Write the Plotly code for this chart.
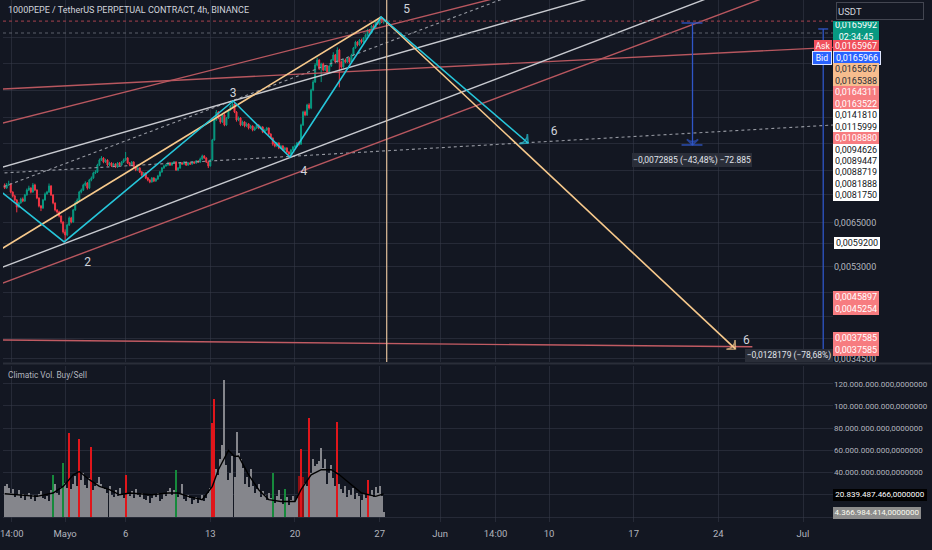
import math
import pandas as pd
import plotly.graph_objects as go

# ---------------- data ----------------
candle_start = "2024-04-26 00:00"
first_open = 0.007746
closes = [
    0.007639, 0.007746, 0.007782, 0.007498, 0.007360, 0.007224, 0.006993, 0.007124, 0.007258, 0.007190,
    0.007394, 0.007568, 0.007639, 0.007498, 0.007746, 0.007568, 0.007292, 0.007025, 0.006960, 0.007224,
    0.007429, 0.007498, 0.007710, 0.007394, 0.007124, 0.006896, 0.006832, 0.006706, 0.006521, 0.006225,
    0.006139, 0.006431, 0.006644, 0.006521, 0.006896, 0.007124, 0.007224, 0.007498, 0.007568, 0.007746,
    0.007818, 0.007639, 0.007928, 0.008003, 0.008191, 0.008229, 0.008501, 0.008701, 0.008783, 0.008620,
    0.008701, 0.008501, 0.008581, 0.008462, 0.008541, 0.008422, 0.008581, 0.008501, 0.008620, 0.008701,
    0.008783, 0.008581, 0.008501, 0.008620, 0.008422, 0.008306, 0.008383, 0.008229, 0.008115, 0.008191,
    0.008003, 0.007928, 0.007855, 0.008003, 0.007891, 0.007965, 0.008077, 0.008229, 0.008383, 0.008462,
    0.008501, 0.008581, 0.008501, 0.008581, 0.008620, 0.008306, 0.008383, 0.008581, 0.008541, 0.008620,
    0.008501, 0.008581, 0.008541, 0.008620, 0.008581, 0.008661, 0.008620, 0.008742, 0.008865, 0.008783,
    0.008620, 0.008462, 0.008701, 0.009549, 0.010480, 0.010877, 0.010578, 0.010383, 0.010727, 0.010239,
    0.010578, 0.010979, 0.011186, 0.011290, 0.010877, 0.010480, 0.010578, 0.010239, 0.010383, 0.010192,
    0.010287, 0.010097, 0.010192, 0.010004, 0.010097, 0.010239, 0.010097, 0.010144, 0.009911, 0.010004,
    0.010097, 0.009820, 0.009639, 0.009373, 0.009287, 0.009417, 0.009201, 0.009287, 0.009115, 0.009201,
    0.009031, 0.008947, 0.009115, 0.009244, 0.009287, 0.009417, 0.009373, 0.010239, 0.010877, 0.010727,
    0.011238, 0.011082, 0.012050, 0.012506, 0.013536, 0.013854, 0.013348, 0.013599, 0.013224, 0.013473,
    0.013102, 0.013473, 0.013854, 0.014180, 0.013726, 0.014514, 0.013726, 0.013411, 0.013854, 0.013726,
    0.013983, 0.013726, 0.014180, 0.014649, 0.015064, 0.014855, 0.015205, 0.015064, 0.015347, 0.015563,
    0.015929, 0.015708, 0.016228, 0.016078, 0.016533, 0.016380, 0.016764, 0.016533, 0.0165992,
]
highs = [
    0.00780, 0.00782, 0.00790, 0.00781, 0.00752, 0.00740, 0.00725, 0.00716, 0.00730, 0.00731,
    0.00743, 0.00762, 0.00772, 0.00766, 0.00782, 0.00779, 0.00759, 0.00731, 0.00706, 0.00726,
    0.00748, 0.00754, 0.00780, 0.00774, 0.00742, 0.00714, 0.00692, 0.00687, 0.00672, 0.00654,
    0.00630, 0.00647, 0.00669, 0.00668, 0.00693, 0.00718, 0.00728, 0.00754, 0.00762, 0.00779,
    0.00788, 0.00785, 0.00797, 0.00806, 0.00824, 0.00830, 0.00855, 0.00876, 0.00886, 0.00882,
    0.00875, 0.00873, 0.00863, 0.00861, 0.00859, 0.00857, 0.00862, 0.00862, 0.00866, 0.00876,
    0.00903, 0.00882, 0.00862, 0.00866, 0.00865, 0.00845, 0.00843, 0.00841, 0.00826, 0.00823,
    0.00822, 0.00804, 0.00796, 0.00804, 0.00803, 0.00800, 0.00812, 0.00827, 0.00842, 0.00851,
    0.00855, 0.00863, 0.00862, 0.00862, 0.00866, 0.00865, 0.00842, 0.00862, 0.00862, 0.00866,
    0.00864, 0.00862, 0.00861, 0.00866, 0.00865, 0.00870, 0.00869, 0.00880, 0.00892, 0.00890,
    0.00881, 0.00864, 0.00874, 0.00960, 0.01054, 0.01098, 0.01092, 0.01065, 0.01080, 0.01078,
    0.01063, 0.01103, 0.01124, 0.01150, 0.01132, 0.01092, 0.01065, 0.01062, 0.01045, 0.01042,
    0.01036, 0.01033, 0.01025, 0.01022, 0.01016, 0.01030, 0.01027, 0.01020, 0.01018, 0.01006,
    0.01015, 0.01012, 0.00985, 0.00966, 0.00941, 0.00946, 0.00944, 0.00934, 0.00932, 0.00925,
    0.00923, 0.00906, 0.00916, 0.00929, 0.00935, 0.00946, 0.00950, 0.01030, 0.01094, 0.01095,
    0.01130, 0.01133, 0.01212, 0.01262, 0.01365, 0.01400, 0.01390, 0.01368, 0.01368, 0.01352,
    0.01352, 0.01352, 0.01392, 0.01436, 0.01425, 0.01470, 0.01460, 0.01380, 0.01392, 0.01395,
    0.01405, 0.01402, 0.01426, 0.01472, 0.01515, 0.01512, 0.01528, 0.01530, 0.01542, 0.01565,
    0.01602, 0.01600, 0.01632, 0.01635, 0.01662, 0.01665, 0.01692, 0.01685, 0.01668,
]
lows = [
    0.00760, 0.00761, 0.00771, 0.00745, 0.00731, 0.00718, 0.00682, 0.00697, 0.00710, 0.00715,
    0.00716, 0.00737, 0.00753, 0.00745, 0.00747, 0.00753, 0.00725, 0.00698, 0.00686, 0.00693,
    0.00720, 0.00740, 0.00746, 0.00736, 0.00708, 0.00685, 0.00678, 0.00666, 0.00647, 0.00618,
    0.00594, 0.00610, 0.00640, 0.00648, 0.00650, 0.00687, 0.00709, 0.00719, 0.00745, 0.00753,
    0.00770, 0.00758, 0.00760, 0.00788, 0.00797, 0.00815, 0.00819, 0.00846, 0.00866, 0.00857,
    0.00858, 0.00846, 0.00846, 0.00842, 0.00842, 0.00838, 0.00839, 0.00846, 0.00847, 0.00858,
    0.00866, 0.00854, 0.00845, 0.00846, 0.00838, 0.00826, 0.00827, 0.00819, 0.00807, 0.00808,
    0.00796, 0.00788, 0.00781, 0.00783, 0.00785, 0.00786, 0.00793, 0.00805, 0.00820, 0.00835,
    0.00843, 0.00847, 0.00846, 0.00847, 0.00855, 0.00827, 0.00826, 0.00835, 0.00851, 0.00851,
    0.00846, 0.00847, 0.00850, 0.00851, 0.00854, 0.00855, 0.00859, 0.00859, 0.00871, 0.00875,
    0.00858, 0.00838, 0.00844, 0.00868, 0.00952, 0.01044, 0.01052, 0.01030, 0.01034, 0.01018,
    0.01020, 0.01054, 0.01094, 0.01112, 0.01082, 0.01040, 0.01042, 0.01018, 0.01019, 0.01013,
    0.01014, 0.01003, 0.01005, 0.00994, 0.00996, 0.01006, 0.01004, 0.01004, 0.00986, 0.00986,
    0.00996, 0.00977, 0.00959, 0.00930, 0.00923, 0.00924, 0.00915, 0.00916, 0.00907, 0.00908,
    0.00899, 0.00882, 0.00890, 0.00908, 0.00920, 0.00924, 0.00930, 0.00933, 0.01019, 0.01066,
    0.01068, 0.01100, 0.01102, 0.01198, 0.01245, 0.01345, 0.01322, 0.01250, 0.01315, 0.01316,
    0.01302, 0.01305, 0.01342, 0.01380, 0.01364, 0.01368, 0.01220, 0.01330, 0.01336, 0.01365,
    0.01366, 0.01362, 0.01368, 0.01414, 0.01460, 0.01476, 0.01480, 0.01496, 0.01500, 0.01530,
    0.01550, 0.01560, 0.01565, 0.01600, 0.01602, 0.01630, 0.01632, 0.01645, 0.01640,
]
# volume per candle, in billions
volumes_b = [
    28, 30, 26, 22, 25, 18, 20, 24, 17, 21,
    15, 19, 22, 16, 20, 14, 18, 21, 23, 17,
    16, 19, 14, 24, 38, 30, 22, 20, 27, 49,
    31, 26, 76, 25, 30, 37, 28, 70, 33, 40,
    29, 26, 35, 63, 24, 28, 31, 36, 30, 27,
    25, 22, 28, 20, 18, 24, 19, 26, 21, 17,
    38, 22, 19, 23, 17, 25, 20, 18, 22, 16,
    15, 19, 13, 17, 20, 18, 22, 14, 16, 21,
    19, 23, 26, 20, 24, 42, 18, 22, 30, 16,
    14, 20, 17, 12, 15, 18, 13, 16, 20, 14,
    17, 22, 26, 85, 106, 43, 38, 52, 65, 123,
    47, 33, 40, 55, 36, 77, 58, 52, 44, 30,
    36, 27, 43, 28, 22, 25, 30, 18, 23, 20,
    15, 22, 17, 40, 13, 19, 24, 16, 12, 25,
    18, 11, 15, 19, 14, 17, 37, 61, 36, 31,
    28, 89, 40, 52, 46, 48, 50, 62, 44, 52,
    30, 40, 47, 35, 28, 86, 30, 25, 22, 28,
    18, 24, 20, 26, 16, 22, 19, 15, 21, 17,
    33, 20, 24, 18, 27, 22, 28, 19, 4.37,
]
vol_red_idx = [32, 37, 43, 60, 103, 104, 147, 151, 165, 180]
vol_darkred_idx = [146, 148]
vol_green_idx = [24, 29, 85, 133, 139]
# moving-average line of the volume pane (read at sample candles)
ma_idx = [0, 9, 16, 24, 29, 34, 37, 42, 47, 52, 57, 62, 73, 81, 86, 91, 98, 103, 106, 111,
          114, 116, 121, 126, 131, 137, 144, 147, 152, 157, 162, 166, 170, 177, 184, 188]
ma_vals = [21, 20, 18.6, 21.6, 27.6, 38, 41, 33.6, 27.6, 24.6, 20, 21.6, 20, 21.6, 21.6, 18.6, 15.6, 27.6, 42.6, 60,
           54.6, 55, 38, 24.6, 15.6, 14, 14, 24.6, 38, 42.6, 42.6, 38, 32, 21.6, 18.6, 20.84]

# drawings: (times, prices)
line_white_1 = (["2024-04-25 00:00", "2024-06-14 07:30"], [0.008306, 0.018744])
line_white_2 = (["2024-04-25 00:00", "2024-06-23 19:50"], [0.005192, 0.018744])
line_red_1 = (["2024-04-25 00:00", "2024-06-06 15:00"], [0.010210, 0.018744])
line_red_2 = (["2024-04-25 00:00", "2024-07-04 01:20"], [0.012078, 0.014718])
line_red_3 = (["2024-04-25 00:00", "2024-06-28 09:50"], [0.004822, 0.018744])
line_dot_1 = (["2024-04-25 00:00", "2024-06-07 01:00"], [0.007536, 0.018744])
line_dot_2 = (["2024-04-25 00:00", "2024-07-04 01:20"], [0.008168, 0.010258])
line_base_red = (["2024-04-25 00:00", "2024-06-26 19:30"], [0.003767, 0.003650])
yellow_up = (["2024-04-25 00:00", "2024-05-27 03:00"], [0.005609, 0.016921])
yellow_down = (["2024-05-27 03:00", "2024-06-25 09:50"], [0.016921, 0.003613])
wave_times = ["2024-04-25 00:00", "2024-04-30 22:00", "2024-05-14 21:20", "2024-05-19 14:00",
              "2024-05-27 03:00", "2024-06-08 06:30"]
wave_prices = [0.007750, 0.005942, 0.011449, 0.008824, 0.016921, 0.009417]
wave_labels = ["2", "3", "4", "5", "6", "6"]
wave_label_times = ["2024-05-02 20:40", "2024-05-14 21:20", "2024-05-20 17:50", "2024-05-29 05:20",
                    "2024-06-10 10:00", "2024-06-26 07:30"]
wave_label_prices = [0.005389, 0.011828, 0.008229, 0.017480, 0.009911, 0.003749]
vline_time = "2024-05-27 14:00"
level_gray = 0.015708
measure_1 = (["2024-06-21 20:45", "2024-06-21 20:45"], [0.016456, 0.009330])
measure_1_caps = (["2024-06-20 23:00", "2024-06-22 16:30"], [0.016456, 0.009330])
measure_2 = (["2024-07-02 16:05", "2024-07-02 16:05"], [0.016004, 0.003613])
measure_2_cap = (["2024-07-02 06:10", "2024-07-03 01:55"], [0.016004])

x_tick_vals = ["2024-04-26 14:00", "2024-05-01", "2024-05-06", "2024-05-13", "2024-05-20", "2024-05-27",
               "2024-06-01", "2024-06-05 14:00", "2024-06-10", "2024-06-17", "2024-06-24", "2024-07-01"]
x_tick_text = ["14:00", "Mayo", "6", "13", "20", "27", "Jun", "14:00", "10", "17", "24", "Jul"]
x_range = ["2024-04-25 20:40", "2024-07-03 11:30"]

price_tick_vals = [0.00345, 0.0038, 0.0042, 0.0047, 0.0053, 0.0059, 0.0065,
                   0.0074, 0.0083, 0.0094, 0.0106, 0.0120, 0.0136, 0.0154]
price_tick_text = ["0,0034500", "", "", "", "0,0053000", "", "0,0065000",
                   "", "", "", "", "", "", ""]
price_range = [0.0034, 0.018313]

vol_tick_vals = [0, 20, 40, 60, 80, 100, 120]
vol_tick_text = ["", "", "40.000.000.000,0000000", "60.000.000.000,0000000",
                 "80.000.000.000,0000000", "100.000.000.000,0000000", "120.000.000.000,0000000"]
vol_range = [-4.5, 136]

right_top_label = "0,0165992<br>02:34:45"
right_stack_labels = ["0,0165967", "0,0165966", "0,0165667", "0,0165388", "0,0164311", "0,0163522",
                      "0,0141810", "0,0115999", "0,0108880", "0,0094626", "0,0089447", "0,0088719",
                      "0,0081888", "0,0081750"]
right_stack_kinds = ["ask", "bid", "peach", "peach", "salmon", "salmon", "white", "white", "salmon",
                     "white", "white", "white", "white", "white"]
right_low_labels = ["0,0059200", "0,0045897", "0,0045254", "0,0037585", "0,0037585"]
right_low_kinds = ["whiteb", "salmon", "salmon", "salmon", "salmon"]
vol_last_ma_label = "20.839.487.466,0000000"
vol_last_label = "4.366.984.414,0000000"
title_text = "1000PEPE / TetherUS PERPETUAL CONTRACT, 4h, BINANCE"
indicator_text = "Climatic Vol. Buy/Sell"
measure_1_text = "−0,0072885 (−43,48%) −72.885"
measure_2_text = "−0,0128179 (−78,68%)"

# ---------------- styling ----------------
BG = "#131722"
GRID = "rgba(54,58,72,0.55)"
FONT = "Roboto"
AXIS_TXT = "#b2b5be"
W, H = 932, 550
PW, PH = 833, 522   # plot area size in px (margins r=99, b=28)

times = pd.date_range(candle_start, periods=len(closes), freq="4h")
opens = [first_open] + closes[:-1]

vol_colors = []
for i in range(len(volumes_b)):
    if i in vol_red_idx:
        vol_colors.append("#e0161b")
    elif i in vol_darkred_idx:
        vol_colors.append("#8e1014")
    elif i in vol_green_idx:
        vol_colors.append("#168a3c")
    else:
        vol_colors.append("#85868c")

fig = go.Figure()

fig.add_trace(go.Candlestick(
    x=times, open=opens, high=highs, low=lows, close=closes,
    increasing=dict(line=dict(color="#089981", width=1), fillcolor="#089981"),
    decreasing=dict(line=dict(color="#f23645", width=1), fillcolor="#f23645"),
    whiskerwidth=0, hoverinfo="skip", xaxis="x", yaxis="y"))


def add_line(seg, color, width=1.4, dash=None):
    fig.add_trace(go.Scatter(x=seg[0], y=seg[1], mode="lines",
                             line=dict(color=color, width=width, dash=dash),
                             hoverinfo="skip", xaxis="x", yaxis="y"))


def add_arrow(xs, ys, color, width=1.6, size=9):
    fig.add_trace(go.Scatter(
        x=xs, y=ys, mode="lines+markers",
        line=dict(color=color, width=width, backoff=0),
        marker=dict(symbol="arrow-wide-open", size=[0] * (len(xs) - 1) + [size], angleref="previous",
                    color=color, line=dict(color=color, width=1.6)),
        hoverinfo="skip", xaxis="x", yaxis="y"))


add_line(line_dot_2, "#9598a1", 1.1, "dot")
add_line(line_dot_1, "#9598a1", 1.1, "dot")
add_line(line_red_2, "#b8575f", 1.4)
add_line(line_red_1, "#b8575f", 1.4)
add_line(line_red_3, "#b8575f", 1.4)
add_line(line_white_1, "#c8cad0", 1.4)
add_line(line_white_2, "#c8cad0", 1.4)
add_line(line_base_red, "#c15b63", 1.4)
# horizontal price lines
add_line((x_range, [closes[-1], closes[-1]]), "#8a3a45", 1.1, "dot")
add_line((x_range, [level_gray, level_gray]), "#5d606b", 1.1, "dot")
# vertical line
add_line(([vline_time, vline_time], [0.002, 0.03]), "#e2c19c", 1.2)
# yellow projection
add_line(yellow_up, "#f7c98c", 1.6)
add_arrow(yellow_down[0], yellow_down[1], "#f7c98c")
# cyan wave
add_arrow(wave_times, wave_prices, "#26c6da")
# measure tools
add_arrow(measure_1[0], measure_1[1], "#2f56c8", 1.3, 8)
add_line((measure_1_caps[0], [measure_1_caps[1][0]] * 2), "#2f56c8", 1.3)
add_line((measure_1_caps[0], [measure_1_caps[1][1]] * 2), "#2f56c8", 1.3)
add_line(measure_2, "#2f56c8", 1.3)
add_line((measure_2_cap[0], measure_2_cap[1] * 2), "#2f56c8", 1.3)

fig.add_trace(go.Scatter(x=wave_label_times, y=wave_label_prices, mode="text", text=wave_labels,
                         textfont=dict(color="#d1d4dc", size=12, family=FONT),
                         hoverinfo="skip", xaxis="x", yaxis="y"))

# volume pane
fig.add_trace(go.Bar(x=times, y=volumes_b, marker=dict(color=vol_colors, line=dict(width=0)),
                     width=4 * 3600 * 1000 * 0.5, hoverinfo="skip", xaxis="x", yaxis="y2"))
fig.add_trace(go.Scatter(x=[times[i] for i in ma_idx], y=ma_vals, mode="lines",
                         line=dict(color="#000000", width=1.4), hoverinfo="skip", xaxis="x", yaxis="y2"))

x_font = dict(family=FONT, size=9.5, color=AXIS_TXT)
p_font = dict(family=FONT, size=9, color=AXIS_TXT)
v_font = dict(family=FONT, size=8, color=AXIS_TXT)
fig.update_layout(
    width=W, height=H, margin=dict(l=0, r=W - PW, t=0, b=H - PH),
    paper_bgcolor=BG, plot_bgcolor=BG, showlegend=False, bargap=0,
    xaxis=dict(type="date", range=x_range, anchor="y2", tickmode="array", tickvals=x_tick_vals,
               ticktext=x_tick_text, showgrid=True, gridcolor=GRID, gridwidth=1, tickfont=x_font,
               ticks="outside", ticklen=3, tickcolor="rgba(0,0,0,0)", zeroline=False, showline=False,
               ticklabeloverflow="allow", rangeslider=dict(visible=False), fixedrange=True),
    yaxis=dict(type="log", domain=[(PH - 362) / PH, 1], anchor="x",
               range=[math.log10(price_range[0]), math.log10(price_range[1])], side="right",
               tickmode="array", tickvals=price_tick_vals, ticktext=price_tick_text, tickfont=p_font,
               showgrid=True, gridcolor=GRID, zeroline=False, showline=False, ticks="", fixedrange=True),
    yaxis2=dict(domain=[0, (PH - 366) / PH], anchor="x", range=vol_range, side="right",
                tickmode="array", tickvals=vol_tick_vals, ticktext=vol_tick_text, tickfont=v_font,
                showgrid=True, gridcolor=GRID, zeroline=False, showline=False, ticks="", fixedrange=True),
)

# pane separator
fig.add_shape(type="line", xref="paper", yref="paper", x0=0, x1=W / PW, y0=(PH - 363.5) / PH,
              y1=(PH - 363.5) / PH, line=dict(color="#2a2e39", width=2))


def box(py, text, bg, fg, px=833, w=44, h=9.6, anchor="left", border=None, size=9, align="center"):
    fig.add_annotation(xref="paper", yref="paper", x=px / PW, y=(PH - py) / PH, xanchor=anchor,
                       yanchor="middle", text=text, showarrow=False, bgcolor=bg,
                       font=dict(color=fg, size=size, family=FONT), width=w, height=h, borderpad=1,
                       bordercolor=border if border else bg, borderwidth=1 if border else 0, align=align)


def label(px, py, text, size, color):
    fig.add_annotation(xref="paper", yref="paper", x=px / PW, y=(PH - py) / PH, xanchor="left",
                       yanchor="middle", text=text, showarrow=False,
                       font=dict(color=color, size=size, family=FONT))


label(3, 10, title_text, 9, "#d1d4dc")
label(3, 375, indicator_text, 8.3, "#b2b5be")

box(159.5, measure_1_text, "#2a2e39", "#e0e3eb", px=691.5, w=118, h=12, anchor="center", size=8.5)
box(355, measure_2_text, "#2a2e39", "#e0e3eb", px=833, w=86, h=11, anchor="right", size=8.5)

kind_style = {
    "ask": ("#f0505c", "#ffffff", None),
    "bid": ("#2962ff", "#ffffff", "#dfe6ff"),
    "peach": ("#f6bd8e", "#2a2e39", None),
    "salmon": ("#f77c80", "#ffffff", None),
    "white": ("#ffffff", "#131722", None),
    "whiteb": ("#ffffff", "#131722", "#131722"),
}

box(31, right_top_label, "#089981", "#ffffff", h=18)
stack_top, stack_step = 46.5, 11.45
for k, (txt, kind) in enumerate(zip(right_stack_labels, right_stack_kinds)):
    bg, fg, bd = kind_style[kind]
    box(stack_top + k * stack_step, txt, bg, fg, border=bd)
box(46.5, "Ask", "#f0505c", "#ffffff", px=832, w=16, anchor="right", size=8.5)
box(46.5 + stack_step, "Bid", "#2962ff", "#ffffff", px=832, w=16, anchor="right", border="#dfe6ff", size=8.5)

low_label_y = [243, 297, 308.5, 338, 349.5]
for py, txt, kind in zip(low_label_y, right_low_labels, right_low_kinds):
    bg, fg, bd = kind_style[kind]
    box(py, txt, bg, fg, border=bd)

box(11.5, "USDT", BG, "#d1d4dc", px=836, w=84, h=14, border="#434651", align="left", size=9.5)

box(494.5, vol_last_ma_label, "#000000", "#ffffff", w=92, h=9.6, size=8)
box(512.5, vol_last_label, "#8c8c8c", "#fbfbf0", w=86, h=9.6, size=8)

fig.write_html("out.html", config={"displayModeBar": False},
               post_script="document.body.style.margin='0';document.body.style.overflow='hidden';")
